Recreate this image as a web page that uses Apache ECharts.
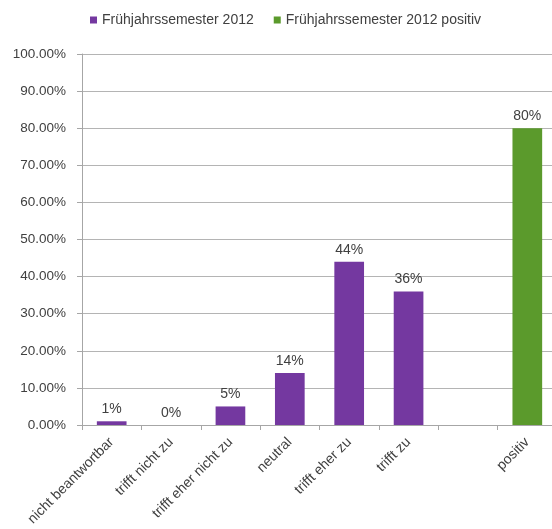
<!DOCTYPE html>
<html>
<head>
<meta charset="utf-8">
<script src="https://cdn.jsdelivr.net/npm/echarts@6/dist/echarts.min.js"></script>
<style>
  html, body { margin: 0; padding: 0; background: #ffffff; overflow: hidden; }
  #chart { width: 560px; height: 529px; }
</style>
</head>
<body>
<div id="chart"></div>
<script>
// Answer categories (the empty slot separates the summary bar)
const categories = [
  'nicht beantwortbar', 'trifft nicht zu', 'trifft eher nicht zu',
  'neutral', 'trifft eher zu', 'trifft zu', '', 'positiv'
];
// Share of answers in percent
const semesterValues = [1, 0, 5, 14, 44, 36, '-', '-'];
const positiveValues = ['-', '-', '-', '-', '-', '-', '-', 80];
const seriesNames = ['Frühjahrssemester 2012', 'Frühjahrssemester 2012 positiv'];
const yTicks = { min: 0, max: 100, interval: 10 };

const textColor = '#404040';
const font = 'Liberation Sans, Arial, sans-serif';

const chart = echarts.init(document.getElementById('chart'), null, { renderer: 'canvas' });

const labelStyle = {
  show: true,
  position: 'top',
  distance: 5,
  color: textColor,
  fontSize: 14,
  fontFamily: font,
  formatter: p => p.value + '%'
};

chart.setOption({
  animation: false,
  backgroundColor: '#ffffff',
  legend: {
    left: 85,
    top: 8,
    icon: 'rect',
    itemWidth: 7,
    itemHeight: 7,
    itemGap: 20,
    textStyle: { color: textColor, fontSize: 14, fontFamily: font },
    data: seriesNames
  },
  grid: { left: 82, right: 3, top: 54, bottom: 104 },
  xAxis: {
    type: 'category',
    data: categories,
    axisLine: { lineStyle: { color: '#a6a6a6', width: 1 } },
    axisTick: { show: true, length: 5, alignWithLabel: false, lineStyle: { color: '#a6a6a6' } },
    axisLabel: {
      interval: 0,
      rotate: 45,
      margin: 15,
      color: textColor,
      fontSize: 14,
      fontFamily: font
    }
  },
  yAxis: {
    type: 'value',
    min: yTicks.min,
    max: yTicks.max,
    interval: yTicks.interval,
    axisLine: { show: true, lineStyle: { color: '#a6a6a6', width: 1 } },
    axisTick: { show: true, length: 5, lineStyle: { color: '#a6a6a6' } },
    splitLine: { lineStyle: { color: '#b4b4b4', width: 1 } },
    axisLabel: {
      margin: 16,
      color: textColor,
      fontSize: 13.5,
      fontFamily: font,
      formatter: v => v.toFixed(2) + '%'
    }
  },
  series: [
    {
      name: seriesNames[0],
      type: 'bar',
      stack: 'all',
      barWidth: '50%',
      data: semesterValues,
      itemStyle: { color: '#7438a0' },
      label: labelStyle
    },
    {
      name: seriesNames[1],
      type: 'bar',
      stack: 'all',
      barWidth: '50%',
      data: positiveValues,
      itemStyle: { color: '#5b9a2c' },
      label: labelStyle
    }
  ]
});
</script>
</body>
</html>
